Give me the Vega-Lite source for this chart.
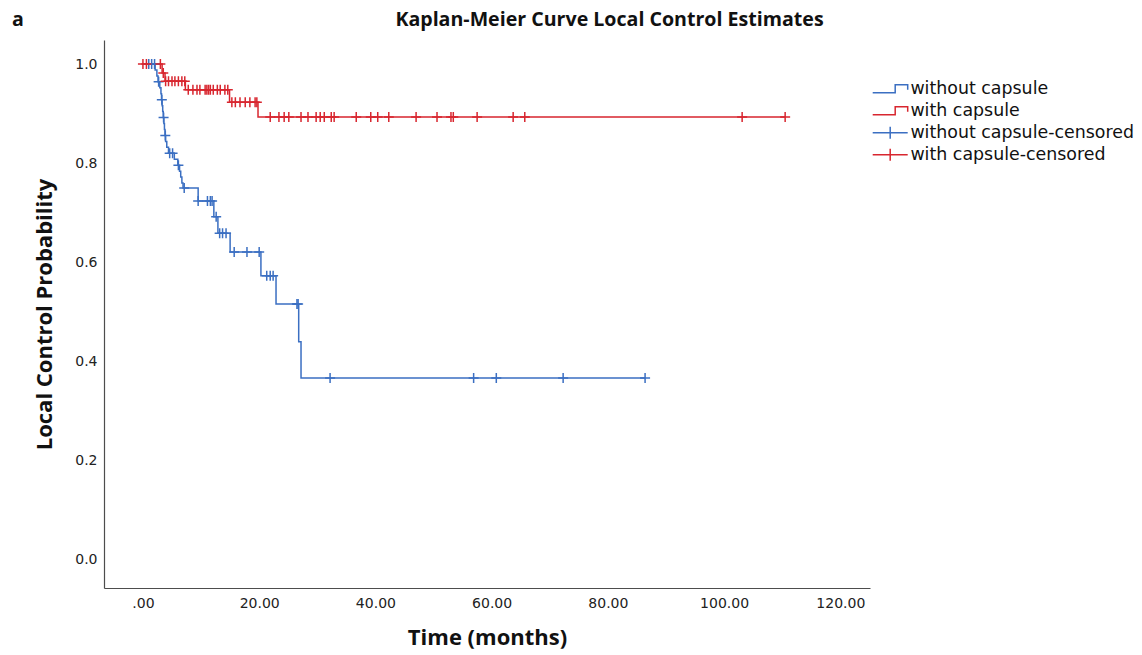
{
  "$schema": "https://vega.github.io/schema/vega-lite/v6.json",
  "width": 766,
  "height": 548,
  "autosize": {"type": "none"},
  "padding": {"left": 104, "top": 40, "right": 272, "bottom": 67},
  "background": "white",
  "config": {"view": {"stroke": null}, "font": "Open Sans"},
  "title": {
    "text": "a\u00a0\u00a0\u00a0\u00a0\u00a0\u00a0\u00a0\u00a0\u00a0\u00a0\u00a0\u00a0\u00a0\u00a0\u00a0\u00a0\u00a0\u00a0\u00a0\u00a0\u00a0\u00a0\u00a0\u00a0\u00a0\u00a0\u00a0\u00a0\u00a0\u00a0\u00a0\u00a0\u00a0\u00a0\u00a0\u00a0\u00a0\u00a0\u00a0\u00a0\u00a0\u00a0\u00a0\u00a0\u00a0\u00a0\u00a0\u00a0\u00a0\u00a0\u00a0\u00a0\u00a0\u00a0\u00a0\u00a0\u00a0\u00a0\u00a0\u00a0\u00a0\u00a0\u00a0\u00a0\u00a0\u00a0\u00a0\u00a0\u00a0\u00a0\u00a0\u00a0\u00a0Kaplan-Meier Curve Local Control Estimates",
    "anchor": "start",
    "frame": "group",
    "dx": -92,
    "dy": 20,
    "offset": 14,
    "baseline": "alphabetic",
    "font": "Open Sans",
    "fontSize": 19.6,
    "fontWeight": "bold",
    "color": "#111111"
  },
  "datasets": {
    "steps": [
      {"series": "without capsule", "time": 0, "surv": 1.0},
      {"series": "without capsule", "time": 2.1, "surv": 0.988},
      {"series": "without capsule", "time": 2.4, "surv": 0.976},
      {"series": "without capsule", "time": 2.6, "surv": 0.964},
      {"series": "without capsule", "time": 2.9, "surv": 0.952},
      {"series": "without capsule", "time": 3.1, "surv": 0.94},
      {"series": "without capsule", "time": 3.2, "surv": 0.928},
      {"series": "without capsule", "time": 3.3, "surv": 0.916},
      {"series": "without capsule", "time": 3.4, "surv": 0.904},
      {"series": "without capsule", "time": 3.5, "surv": 0.892},
      {"series": "without capsule", "time": 3.6, "surv": 0.88},
      {"series": "without capsule", "time": 3.7, "surv": 0.868},
      {"series": "without capsule", "time": 3.8, "surv": 0.856},
      {"series": "without capsule", "time": 3.9, "surv": 0.844},
      {"series": "without capsule", "time": 4.1, "surv": 0.832},
      {"series": "without capsule", "time": 4.4, "surv": 0.82},
      {"series": "without capsule", "time": 5.4, "surv": 0.808},
      {"series": "without capsule", "time": 6.0, "surv": 0.796},
      {"series": "without capsule", "time": 6.3, "surv": 0.784},
      {"series": "without capsule", "time": 6.5, "surv": 0.772},
      {"series": "without capsule", "time": 6.7, "surv": 0.76},
      {"series": "without capsule", "time": 6.9, "surv": 0.75},
      {"series": "without capsule", "time": 9.5, "surv": 0.724},
      {"series": "without capsule", "time": 12.2, "surv": 0.692},
      {"series": "without capsule", "time": 12.9, "surv": 0.659},
      {"series": "without capsule", "time": 15.0, "surv": 0.621},
      {"series": "without capsule", "time": 20.3, "surv": 0.573},
      {"series": "without capsule", "time": 22.9, "surv": 0.516},
      {"series": "without capsule", "time": 26.8, "surv": 0.44},
      {"series": "without capsule", "time": 27.2, "surv": 0.367},
      {"series": "without capsule", "time": 86.4, "surv": 0.367},
      {"series": "with capsule", "time": 0, "surv": 1.0},
      {"series": "with capsule", "time": 3.3, "surv": 0.982},
      {"series": "with capsule", "time": 3.8, "surv": 0.965},
      {"series": "with capsule", "time": 7.3, "surv": 0.948},
      {"series": "with capsule", "time": 14.9, "surv": 0.923},
      {"series": "with capsule", "time": 19.8, "surv": 0.893},
      {"series": "with capsule", "time": 110.5, "surv": 0.893}
    ],
    "censored": [
      {"series": "without capsule-censored", "time": 1.0, "surv": 1.0},
      {"series": "without capsule-censored", "time": 1.5, "surv": 1.0},
      {"series": "without capsule-censored", "time": 2.0, "surv": 1.0},
      {"series": "without capsule-censored", "time": 2.7, "surv": 0.964},
      {"series": "without capsule-censored", "time": 3.25, "surv": 0.928},
      {"series": "without capsule-censored", "time": 3.55, "surv": 0.892},
      {"series": "without capsule-censored", "time": 3.85, "surv": 0.856},
      {"series": "without capsule-censored", "time": 4.6, "surv": 0.82},
      {"series": "without capsule-censored", "time": 5.1, "surv": 0.82},
      {"series": "without capsule-censored", "time": 6.1, "surv": 0.796},
      {"series": "without capsule-censored", "time": 7.1, "surv": 0.75},
      {"series": "without capsule-censored", "time": 9.5, "surv": 0.724},
      {"series": "without capsule-censored", "time": 11.1, "surv": 0.724},
      {"series": "without capsule-censored", "time": 11.6, "surv": 0.724},
      {"series": "without capsule-censored", "time": 11.9, "surv": 0.724},
      {"series": "without capsule-censored", "time": 12.6, "surv": 0.692},
      {"series": "without capsule-censored", "time": 13.2, "surv": 0.659},
      {"series": "without capsule-censored", "time": 13.7, "surv": 0.659},
      {"series": "without capsule-censored", "time": 14.3, "surv": 0.659},
      {"series": "without capsule-censored", "time": 15.7, "surv": 0.621},
      {"series": "without capsule-censored", "time": 17.9, "surv": 0.621},
      {"series": "without capsule-censored", "time": 20.0, "surv": 0.621},
      {"series": "without capsule-censored", "time": 21.3, "surv": 0.573},
      {"series": "without capsule-censored", "time": 21.9, "surv": 0.573},
      {"series": "without capsule-censored", "time": 22.4, "surv": 0.573},
      {"series": "without capsule-censored", "time": 26.5, "surv": 0.516},
      {"series": "without capsule-censored", "time": 26.7, "surv": 0.516},
      {"series": "without capsule-censored", "time": 32.2, "surv": 0.367},
      {"series": "without capsule-censored", "time": 56.9, "surv": 0.367},
      {"series": "without capsule-censored", "time": 60.8, "surv": 0.367},
      {"series": "without capsule-censored", "time": 72.3, "surv": 0.367},
      {"series": "without capsule-censored", "time": 86.4, "surv": 0.367},
      {"series": "with capsule-censored", "time": 0.0, "surv": 1.0},
      {"series": "with capsule-censored", "time": 0.6, "surv": 1.0},
      {"series": "with capsule-censored", "time": 3.0, "surv": 1.0},
      {"series": "with capsule-censored", "time": 3.5, "surv": 0.982},
      {"series": "with capsule-censored", "time": 3.9, "surv": 0.965},
      {"series": "with capsule-censored", "time": 4.4, "surv": 0.965},
      {"series": "with capsule-censored", "time": 5.0, "surv": 0.965},
      {"series": "with capsule-censored", "time": 5.5, "surv": 0.965},
      {"series": "with capsule-censored", "time": 6.1, "surv": 0.965},
      {"series": "with capsule-censored", "time": 6.7, "surv": 0.965},
      {"series": "with capsule-censored", "time": 7.2, "surv": 0.965},
      {"series": "with capsule-censored", "time": 7.8, "surv": 0.948},
      {"series": "with capsule-censored", "time": 8.6, "surv": 0.948},
      {"series": "with capsule-censored", "time": 9.3, "surv": 0.948},
      {"series": "with capsule-censored", "time": 9.8, "surv": 0.948},
      {"series": "with capsule-censored", "time": 10.7, "surv": 0.948},
      {"series": "with capsule-censored", "time": 11.0, "surv": 0.948},
      {"series": "with capsule-censored", "time": 11.3, "surv": 0.948},
      {"series": "with capsule-censored", "time": 11.6, "surv": 0.948},
      {"series": "with capsule-censored", "time": 12.1, "surv": 0.948},
      {"series": "with capsule-censored", "time": 12.8, "surv": 0.948},
      {"series": "with capsule-censored", "time": 13.3, "surv": 0.948},
      {"series": "with capsule-censored", "time": 14.1, "surv": 0.948},
      {"series": "with capsule-censored", "time": 14.6, "surv": 0.948},
      {"series": "with capsule-censored", "time": 15.3, "surv": 0.923},
      {"series": "with capsule-censored", "time": 15.9, "surv": 0.923},
      {"series": "with capsule-censored", "time": 16.7, "surv": 0.923},
      {"series": "with capsule-censored", "time": 17.6, "surv": 0.923},
      {"series": "with capsule-censored", "time": 18.4, "surv": 0.923},
      {"series": "with capsule-censored", "time": 19.3, "surv": 0.923},
      {"series": "with capsule-censored", "time": 19.6, "surv": 0.923},
      {"series": "with capsule-censored", "time": 21.9, "surv": 0.893},
      {"series": "with capsule-censored", "time": 23.4, "surv": 0.893},
      {"series": "with capsule-censored", "time": 24.3, "surv": 0.893},
      {"series": "with capsule-censored", "time": 25.1, "surv": 0.893},
      {"series": "with capsule-censored", "time": 27.2, "surv": 0.893},
      {"series": "with capsule-censored", "time": 28.4, "surv": 0.893},
      {"series": "with capsule-censored", "time": 29.8, "surv": 0.893},
      {"series": "with capsule-censored", "time": 30.5, "surv": 0.893},
      {"series": "with capsule-censored", "time": 31.2, "surv": 0.893},
      {"series": "with capsule-censored", "time": 32.4, "surv": 0.893},
      {"series": "with capsule-censored", "time": 32.9, "surv": 0.893},
      {"series": "with capsule-censored", "time": 36.7, "surv": 0.893},
      {"series": "with capsule-censored", "time": 39.2, "surv": 0.893},
      {"series": "with capsule-censored", "time": 40.4, "surv": 0.893},
      {"series": "with capsule-censored", "time": 42.3, "surv": 0.893},
      {"series": "with capsule-censored", "time": 47.0, "surv": 0.893},
      {"series": "with capsule-censored", "time": 50.6, "surv": 0.893},
      {"series": "with capsule-censored", "time": 53.0, "surv": 0.893},
      {"series": "with capsule-censored", "time": 53.4, "surv": 0.893},
      {"series": "with capsule-censored", "time": 57.5, "surv": 0.893},
      {"series": "with capsule-censored", "time": 63.7, "surv": 0.893},
      {"series": "with capsule-censored", "time": 65.7, "surv": 0.893},
      {"series": "with capsule-censored", "time": 103.1, "surv": 0.893},
      {"series": "with capsule-censored", "time": 110.5, "surv": 0.893}
    ]
  },
  "encoding": {
    "x": {
      "field": "time",
      "type": "quantitative",
      "title": "Time (months)",
      "scale": {"domain": [-6.7, 125.1], "nice": false, "zero": false},
      "axis": {
        "values": [0, 20, 40, 60, 80, 100, 120],
        "labelExpr": "datum.value === 0 ? '.00' : format(datum.value, '.2f')",
        "grid": false,
        "ticks": false,
        "domainColor": "#4d4d4d",
        "domainWidth": 1.2,
        "labelFont": "DejaVu Sans",
        "labelFontSize": 14,
        "labelColor": "#222222",
        "labelPadding": 8,
        "labelFlush": false,
        "titleFont": "Open Sans",
        "titleFontSize": 22,
        "titleFontWeight": "bold",
        "titleColor": "#111111",
        "titlePadding": 17
      }
    },
    "y": {
      "field": "surv",
      "type": "quantitative",
      "title": "Local Control Probability",
      "scale": {"domain": [-0.0565, 1.0484], "nice": false, "zero": false},
      "axis": {
        "values": [0, 0.2, 0.4, 0.6, 0.8, 1.0],
        "format": ".1f",
        "grid": false,
        "ticks": false,
        "domainColor": "#4d4d4d",
        "domainWidth": 1.2,
        "labelFont": "DejaVu Sans",
        "labelFontSize": 14,
        "labelColor": "#222222",
        "labelPadding": 7,
        "labelFlush": false,
        "titleFont": "Open Sans",
        "titleFontSize": 22,
        "titleFontWeight": "bold",
        "titleColor": "#111111",
        "titlePadding": 18
      }
    },
    "color": {
      "field": "series",
      "type": "nominal",
      "scale": {
        "domain": ["without capsule", "with capsule", "without capsule-censored", "with capsule-censored"],
        "range": ["#3b6fc2", "#d8262f", "#3b6fc2", "#d8262f"]
      },
      "legend": {
        "title": null,
        "orient": "none",
        "legendX": 790,
        "legendY": 40,
        "direction": "vertical",
        "symbolSize": 100,
        "symbolStrokeWidth": 1.5,
        "symbolOpacity": 1,
        "symbolFillColor": "transparent",
        "labelFont": "DejaVu Sans",
        "labelFontSize": 17.4,
        "labelColor": "#111111",
        "labelOffset": -1,
        "labelLimit": 400,
        "rowPadding": 3,
        "encode": {
          "symbols": {
            "update": {
              "shape": {"signal": "indexof(['without capsule','with capsule'], datum.value) >= 0 ? 'M-6,0.8H-1.5V-0.8H1V0.2' : 'M-6,0H1M-2.5,-1.2V1.2'"},
              "fill": {"value": "transparent"},
              "strokeWidth": {"value": 1.5}
            }
          }
        }
      }
    }
  },
  "layer": [
    {
      "data": {"name": "steps"},
      "mark": {"type": "line", "interpolate": "step-after", "strokeWidth": 1.5}
    },
    {
      "data": {"name": "censored"},
      "mark": {"type": "point", "shape": "M-1,0H1M0,-1V1", "size": 100, "filled": false, "strokeWidth": 1.5, "opacity": 1}
    }
  ]
}
